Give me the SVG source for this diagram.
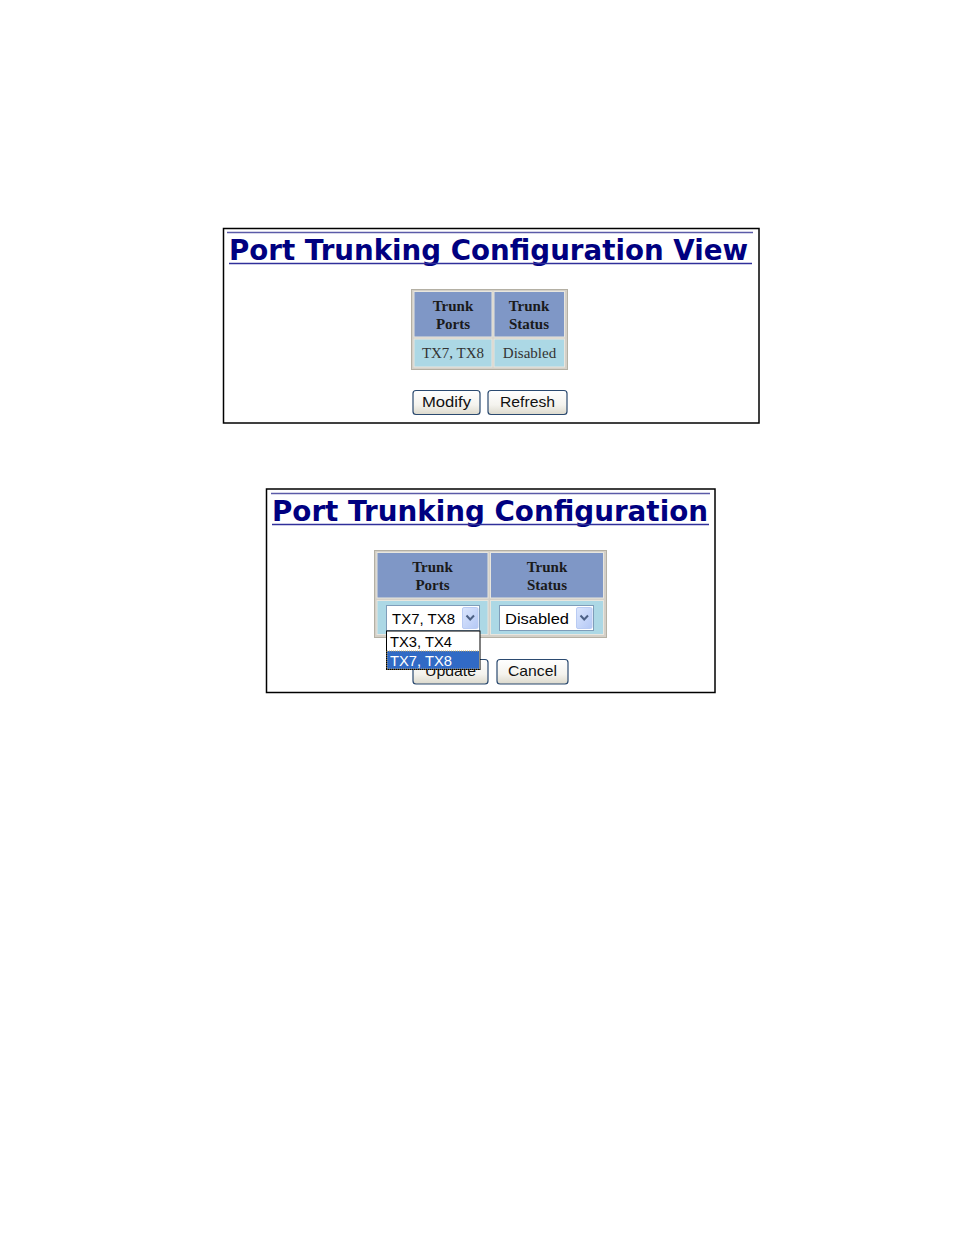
<svg xmlns="http://www.w3.org/2000/svg" width="954" height="1235" viewBox="0 0 954 1235">
<defs>
<linearGradient id="btnGrad" x1="0" y1="0" x2="0" y2="1">
<stop offset="0" stop-color="#ffffff"/>
<stop offset="0.6" stop-color="#f4f3ee"/>
<stop offset="1" stop-color="#dcd9cc"/>
</linearGradient>
<linearGradient id="arrGrad" x1="0" y1="0" x2="1" y2="1">
<stop offset="0" stop-color="#dbe6fd"/>
<stop offset="1" stop-color="#b4c8f5"/>
</linearGradient>
</defs>
<style>
.panel{fill:#ffffff;stroke:#000000;stroke-width:1.5}
.hr{stroke:#5b5ba8;stroke-width:1.5}
.uline{stroke:#30309a;stroke-width:1.5}
.title{font-family:"DejaVu Sans","Verdana",sans-serif;font-weight:bold;font-size:28px;fill:#000080}
.tbl{fill:#d4d0c8;stroke:#b4b0a4;stroke-width:1}
.hdr{fill:#7f97c6;stroke:#e8e6de;stroke-width:1}
.dat{fill:#acd8e5;stroke:#e8e6de;stroke-width:1}
.th{font-family:"Liberation Serif","Times New Roman",serif;font-weight:bold;font-size:15px;fill:#1a1a1a;text-anchor:middle}
.td{font-family:"Liberation Serif","Times New Roman",serif;font-size:15px;fill:#333333;text-anchor:middle}
.btn{fill:url(#btnGrad);stroke:#2b4a70;stroke-width:1.2}
.btxt{font-family:"Liberation Sans","Arial",sans-serif;font-size:15px;fill:#111111;text-anchor:middle}
.sel{fill:#ffffff;stroke:#7f9db9;stroke-width:1}
.stxt{font-family:"Liberation Sans","Arial",sans-serif;font-size:15px;fill:#000000}
.arr{fill:url(#arrGrad);stroke:#b9cbf3;stroke-width:1}
.chev{fill:none;stroke:#4d6185;stroke-width:2}
</style>

<g id="panel-view">
<rect class="panel" x="223.5" y="228.5" width="535.5" height="194.5"/>
<line class="hr" x1="227" y1="232.5" x2="753" y2="232.5"/>
<text class="title" x="229" y="260" textLength="519" lengthAdjust="spacingAndGlyphs">Port Trunking Configuration View</text>
<line class="uline" x1="229" y1="263.5" x2="752" y2="263.5"/>
</g>

<g id="table-view">
<rect class="tbl" x="411.5" y="289.5" width="156" height="80"/>
<rect class="hdr" x="414" y="291.5" width="78" height="45.5"/>
<rect class="hdr" x="494" y="291.5" width="70.5" height="45.5"/>
<rect class="dat" x="414" y="339" width="78" height="28"/>
<rect class="dat" x="494" y="339" width="70.5" height="28"/>
<text class="th" x="453" y="311">Trunk</text>
<text class="th" x="453" y="329">Ports</text>
<text class="th" x="529" y="311">Trunk</text>
<text class="th" x="529" y="329">Status</text>
<text class="td" x="453" y="358">TX7, TX8</text>
<text class="td" x="529.5" y="358">Disabled</text>
</g>

<g id="btn-modify">
<rect class="btn" x="413" y="390.5" width="67" height="24" rx="3"/>
<text class="btxt" x="446.5" y="407" textLength="49" lengthAdjust="spacingAndGlyphs">Modify</text>
</g>
<g id="btn-refresh">
<rect class="btn" x="488" y="390.5" width="79" height="24" rx="3"/>
<text class="btxt" x="527.5" y="407" textLength="55" lengthAdjust="spacingAndGlyphs">Refresh</text>
</g>

<g id="panel-config">
<rect class="panel" x="266.5" y="489" width="448.5" height="203.5"/>
<line class="hr" x1="271" y1="493.5" x2="710" y2="493.5"/>
<text class="title" x="272" y="521" textLength="436" lengthAdjust="spacingAndGlyphs">Port Trunking Configuration</text>
<line class="uline" x1="272" y1="524.5" x2="709" y2="524.5"/>
</g>

<g id="table-config">
<rect class="tbl" x="374.5" y="550.5" width="232" height="87"/>
<rect class="hdr" x="377" y="552.5" width="111" height="45.5"/>
<rect class="hdr" x="490.5" y="552.5" width="113" height="45.5"/>
<rect class="dat" x="377" y="600.5" width="111" height="34"/>
<rect class="dat" x="490.5" y="600.5" width="113" height="34"/>
<text class="th" x="432.5" y="572">Trunk</text>
<text class="th" x="432.5" y="590">Ports</text>
<text class="th" x="547" y="572">Trunk</text>
<text class="th" x="547" y="590">Status</text>
</g>

<g id="select-ports">
<rect class="sel" x="386.5" y="605.5" width="93" height="25"/>
<text class="stxt" x="392" y="624" textLength="63" lengthAdjust="spacingAndGlyphs">TX7, TX8</text>
<rect class="arr" x="462.5" y="607.5" width="15.5" height="21" rx="1.5"/>
<polyline class="chev" points="466.5,615.5 470.2,619.5 474,615.5"/>
</g>

<g id="select-status">
<rect class="sel" x="499.5" y="605.5" width="94" height="25"/>
<text class="stxt" x="505" y="624" textLength="64" lengthAdjust="spacingAndGlyphs">Disabled</text>
<rect class="arr" x="576.5" y="607.5" width="15.5" height="21" rx="1.5"/>
<polyline class="chev" points="580.5,615.5 584.2,619.5 588,615.5"/>
</g>

<g id="btn-update">
<rect class="btn" x="413" y="659.5" width="75" height="24.5" rx="3"/>
<text class="btxt" x="450.5" y="676" textLength="51" lengthAdjust="spacingAndGlyphs">Update</text>
</g>
<g id="btn-cancel">
<rect class="btn" x="497" y="659.5" width="71" height="24.5" rx="3"/>
<text class="btxt" x="532.5" y="676" textLength="49" lengthAdjust="spacingAndGlyphs">Cancel</text>
</g>

<g id="dropdown-list">
<rect x="386.5" y="631" width="93.5" height="38.5" fill="#ffffff" stroke="#000000" stroke-width="1"/>
<text class="stxt" x="390" y="647" textLength="62" lengthAdjust="spacingAndGlyphs">TX3, TX4</text>
<rect x="387" y="651" width="92.5" height="18" fill="#316ac5" stroke="#c8a860" stroke-width="1" stroke-dasharray="1,1"/>
<text class="stxt" x="390" y="666" fill="#ffffff" style="fill:#ffffff" textLength="62" lengthAdjust="spacingAndGlyphs">TX7, TX8</text>
</g>
</svg>
